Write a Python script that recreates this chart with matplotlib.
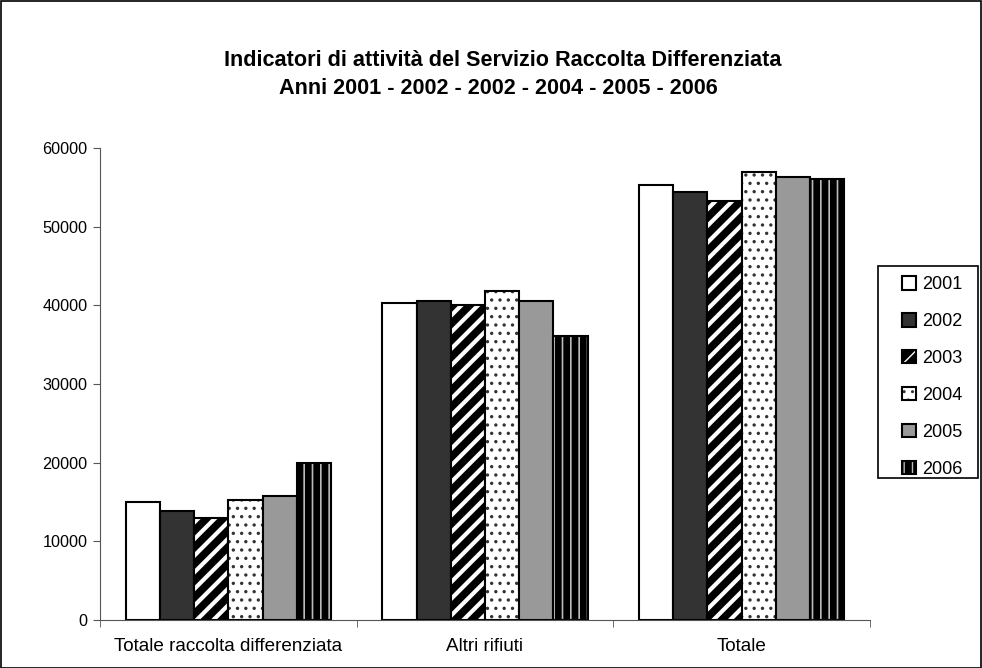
import matplotlib.pyplot as plt
import numpy as np
from matplotlib.patches import Rectangle
from matplotlib.legend_handler import HandlerTuple

plt.rcParams['font.family'] = ['Liberation Sans', 'DejaVu Sans']

categorie = ["Totale raccolta differenziata", "Altri rifiuti", "Totale"]
anni = ["2001", "2002", "2003", "2004", "2005", "2006"]
v2001 = [15000, 40300, 55300]
v2002 = [13900, 40600, 54400]
v2003 = [13000, 40100, 53200]
v2004 = [15300, 41800, 56900]
v2005 = [15700, 40600, 56300]
v2006 = [20000, 36100, 56000]
valori = [v2001, v2002, v2003, v2004, v2005, v2006]

# face, hatch, hatch colour, hatch linewidth
stili = [
    ('white', None, 'black', 0),
    ('#333333', None, 'black', 0),
    ('black', '//', 'white', 3.0),
    ('white', '..', '#333333', 1.2),
    ('#999999', None, 'black', 0),
    ('black', '||', '#bbbbbb', 1.2),
]

fig = plt.figure(figsize=(9.82, 6.68), dpi=100)
ax = fig.add_axes([100/982, 48/668, 770/982, 472/668])

x = np.arange(len(categorie))
w = 0.8 / 6
handles = []
for i, (vals, (fc, h, hc, hlw)) in enumerate(zip(valori, stili)):
    pos = x - 0.4 + w*(i + 0.5)
    if h:
        with plt.rc_context({'hatch.linewidth': hlw}):
            ax.bar(pos, vals, w, color=fc, edgecolor=hc, hatch=h, linewidth=0)
            r1 = Rectangle((0, 0), 1, 1, facecolor=fc, edgecolor=hc, hatch=h, linewidth=0)
        ax.bar(pos, vals, w, fill=False, edgecolor='black', linewidth=1.5)
        r2 = Rectangle((0, 0), 1, 1, fill=False, edgecolor='black', linewidth=1.5)
        handles.append((r1, r2))
    else:
        ax.bar(pos, vals, w, color=fc, edgecolor='black', linewidth=1.5)
        handles.append(Rectangle((0, 0), 1, 1, facecolor=fc, edgecolor='black', linewidth=1.5))

ax.set_xlim(-0.5, 2.5)
ax.set_ylim(0, 60000)
ax.set_yticks(np.arange(0, 60001, 10000))
ax.set_xticks(x)
ax.set_xticklabels(categorie, fontsize=13.6)
ax.set_xticks([-0.5, 0.5, 1.5, 2.5], minor=True)
ax.tick_params(axis='x', which='major', length=0, pad=13)
ax.tick_params(axis='x', which='minor', length=5, color='#555555')
ax.tick_params(axis='y', length=5, color='#555555', labelsize=11.7, pad=4)
for s in ['top', 'right']:
    ax.spines[s].set_visible(False)
ax.spines['left'].set_color('#555555')
ax.spines['bottom'].set_color('#555555')

fig.text(503/982, 1 - 61/668, "Indicatori di attività del Servizio Raccolta Differenziata",
         ha='center', va='center', fontsize=15.6, fontweight='bold')
fig.text(498/982, 1 - 88/668, "Anni 2001 - 2002 - 2002 - 2004 - 2005 - 2006",
         ha='center', va='center', fontsize=15.6, fontweight='bold')

leg = fig.legend(handles, anni, loc='center left', bbox_to_anchor=(902/982, 1 - 377/668),
                 fontsize=13, frameon=False,
                 handlelength=0.75, handleheight=0.75, handletextpad=0.35,
                 labelspacing=1.1, borderpad=0, borderaxespad=0,
                 handler_map={tuple: HandlerTuple(ndivide=1)})

# legend frame
fig.patches.append(Rectangle((878/982, 1 - 478/668), 100/982, 212/668,
                             transform=fig.transFigure, fill=False,
                             edgecolor='black', linewidth=1.2))
# outer chart border
fig.patches.append(Rectangle((0.5/982, 0.5/668), 1 - 1.5/982, 1 - 1.5/668,
                             transform=fig.transFigure, fill=False,
                             edgecolor='black', linewidth=1.2))

fig.savefig('out.png', dpi=100)
